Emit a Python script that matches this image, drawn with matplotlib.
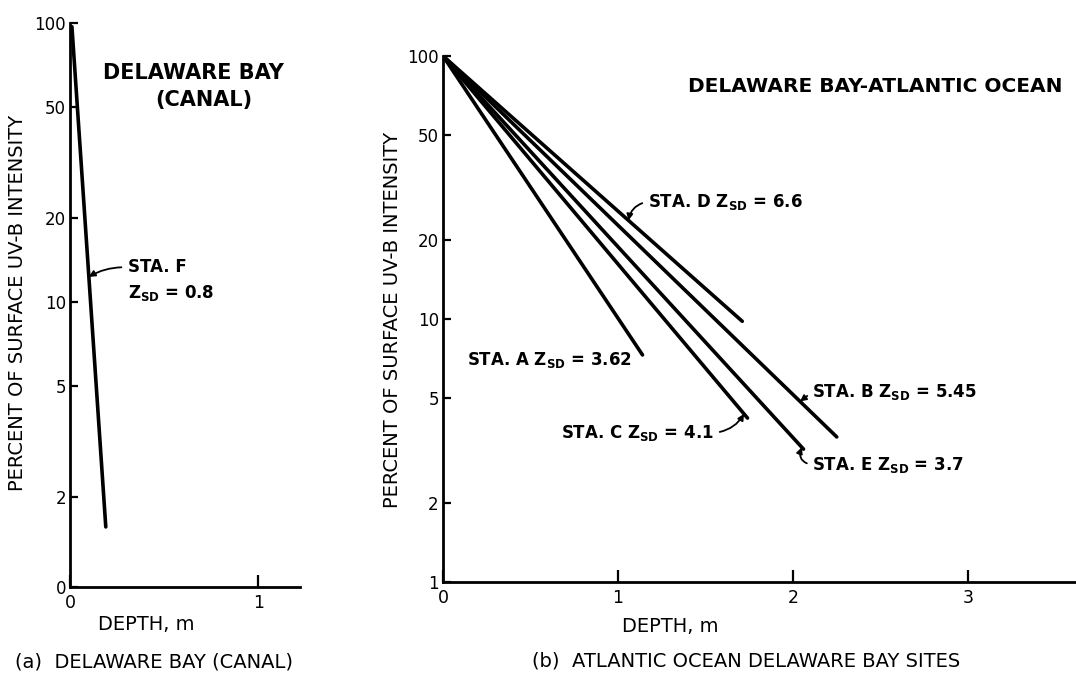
import numpy as np
import matplotlib
matplotlib.use("Agg")
import matplotlib.pyplot as plt
from matplotlib.ticker import FixedLocator, FixedFormatter, NullLocator

# (a) Delaware Bay canal, station F
depth_f = [0.01, 0.19]
pct_f = [97.0, 1.56]

# (b) Atlantic Ocean / Delaware Bay stations, straight lines from 100% at surface
sta_names = ["A", "B", "C", "D", "E"]
sta_zsd = ["3.62", "5.45", "4.1", "6.6", "3.7"]
sta_end_depth = [1.14, 2.25, 1.74, 1.71, 2.06]
sta_end_pct = [7.3, 3.56, 4.2, 9.8, 3.2]
surface_pct = 100.0

ytick_vals = [2, 5, 10, 20, 50, 100]
ytick_labels = ["2", "5", "10", "20", "50", "100"]

plt.rcParams["font.family"] = ["DejaVu Sans"]
plt.rcParams["mathtext.default"] = "bf"

fig = plt.figure(figsize=(10.76, 6.75), dpi=100)

LW = 2.6
ANN_FS = 12
LAB_FS = 14


def style_axes(ax):
    for s in ["top", "right"]:
        ax.spines[s].set_visible(False)
    for s in ["left", "bottom"]:
        ax.spines[s].set_linewidth(2.0)
    ax.tick_params(axis="y", direction="in", length=6, width=1.6, labelsize=12, pad=3)
    ax.tick_params(axis="x", direction="in", length=9, width=1.6, labelsize=12.5, pad=5)
    ax.yaxis.set_minor_locator(NullLocator())
    ax.xaxis.set_minor_locator(NullLocator())


def point_on(d0, p0, d1, p1, d):
    # point at depth d on a straight line in log(percent)
    lp = np.interp(d, [d0, d1], [np.log10(p0), np.log10(p1)])
    return d, 10 ** lp


# ---- panel (a)
ax1 = fig.add_axes([0.0651, 0.1304, 0.2138, 0.8355])
ax1.set_yscale("log")
ax1.set_xlim(0, 1.223)
ax1.set_ylim(0.95, 100)
ax1.plot(depth_f, pct_f, color="black", lw=LW, solid_capstyle="round")
style_axes(ax1)
ax1.yaxis.set_major_locator(FixedLocator([0.95] + ytick_vals))
ax1.yaxis.set_major_formatter(FixedFormatter(["0"] + ytick_labels))
ax1.set_xticks([0, 1])
ax1.set_xticklabels(["0", "1"])

tip = point_on(depth_f[0], pct_f[0], depth_f[1], pct_f[1], 0.1)
ax1.annotate("STA. F", xy=tip, xytext=(0.31, 13.3), fontsize=ANN_FS, fontweight="bold",
             va="center", ha="left",
             arrowprops=dict(arrowstyle="-|>", color="black", lw=1.3, mutation_scale=9,
                             relpos=(0, 0.5), shrinkA=3, shrinkB=0,
                             connectionstyle="arc3,rad=0.15"))
ax1.text(0.31, 10.8, r"Z$_{SD}$ = 0.8", fontsize=ANN_FS, fontweight="bold",
         va="center", ha="left")

fig.text(193 / 1076, 1 - 73 / 675, "DELAWARE BAY", fontsize=15, fontweight="bold",
         ha="center", va="center")
fig.text(204 / 1076, 1 - 100 / 675, "(CANAL)", fontsize=15, fontweight="bold",
         ha="center", va="center")
fig.text(18 / 1076, 1 - 303 / 675, "PERCENT OF SURFACE UV-B INTENSITY", fontsize=LAB_FS,
         rotation=90, ha="center", va="center")
fig.text(146 / 1076, 1 - 625 / 675, "DEPTH, m", fontsize=LAB_FS, ha="center", va="center")
fig.text(15 / 1076, 1 - 662 / 675, "(a)  DELAWARE BAY (CANAL)", fontsize=LAB_FS,
         ha="left", va="center")

# ---- panel (b)
ax2 = fig.add_axes([0.4117, 0.1378, 0.5883, 0.7793])
ax2.set_yscale("log")
ax2.set_xlim(0, 3.617)
ax2.set_ylim(1, 100)
for d, p in zip(sta_end_depth, sta_end_pct):
    ax2.plot([0, d], [surface_pct, p], color="black", lw=LW, solid_capstyle="round")
style_axes(ax2)
ax2.yaxis.set_major_locator(FixedLocator([1] + ytick_vals))
ax2.yaxis.set_major_formatter(FixedFormatter(["1"] + ytick_labels))
ax2.set_xticks([0, 1, 2, 3])
ax2.set_xticklabels(["0", "1", "2", "3"])

# label placement: text position, alignment, arrow tip depth (None = no arrow), curvature
label_pos = {
    "A": ((0.14, 6.98), "left", None, 0.0),
    "B": ((2.11, 5.27), "left", 2.04, 0.0),
    "C": ((1.55, 3.69), "right", 1.72, 0.25),
    "D": ((1.17, 27.9), "left", 1.06, 0.35),
    "E": ((2.11, 2.79), "left", 2.05, -0.6),
}
for name, z, d, p in zip(sta_names, sta_zsd, sta_end_depth, sta_end_pct):
    (tx, ty), ha, tip_d, rad = label_pos[name]
    txt = "STA. %s Z$_{SD}$ = %s" % (name, z)
    if tip_d is None:
        ax2.text(tx, ty, txt, fontsize=ANN_FS, fontweight="bold", ha=ha, va="center")
    else:
        tip = point_on(0, surface_pct, d, p, tip_d)
        ax2.annotate(txt, xy=tip, xytext=(tx, ty), fontsize=ANN_FS, fontweight="bold",
                     ha=ha, va="center",
                     arrowprops=dict(arrowstyle="-|>", color="black", lw=1.3,
                                     mutation_scale=9,
                                     relpos=(0 if ha == "left" else 1, 0.5),
                                     shrinkA=2, shrinkB=0,
                                     connectionstyle="arc3,rad=%s" % rad))

fig.text(875 / 1076, 1 - 87 / 675, "DELAWARE BAY-ATLANTIC OCEAN", fontsize=14.5,
         fontweight="bold", ha="center", va="center")
fig.text(393 / 1076, 1 - 320 / 675, "PERCENT OF SURFACE UV-B INTENSITY", fontsize=LAB_FS,
         rotation=90, ha="center", va="center")
fig.text(670 / 1076, 1 - 627 / 675, "DEPTH, m", fontsize=LAB_FS, ha="center", va="center")
fig.text(746 / 1076, 1 - 661 / 675, "(b)  ATLANTIC OCEAN DELAWARE BAY SITES", fontsize=LAB_FS,
         ha="center", va="center")

fig.savefig("out.png", dpi=100)
